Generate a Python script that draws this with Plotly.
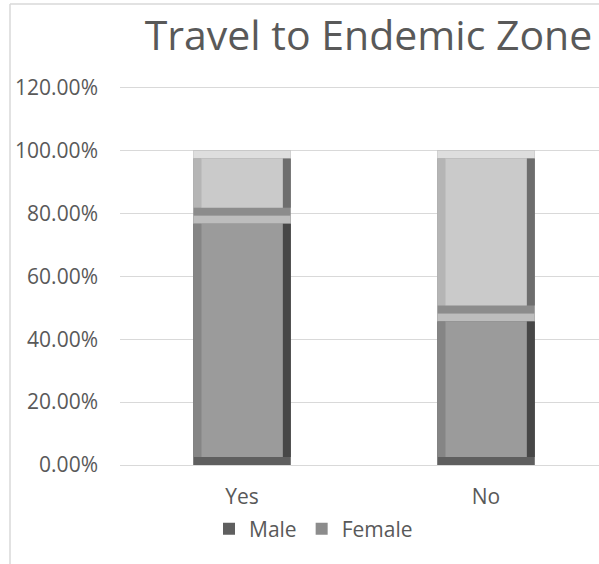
import plotly.graph_objects as go

categories = ["Yes", "No"]
male = [79.3, 48.2]
female = [20.7, 51.8]
y_ticks = [0, 20, 40, 60, 80, 100, 120]
y_tick_labels = ["0.00%", "20.00%", "40.00%", "60.00%", "80.00%", "100.00%", "120.00%"]

W, H = 599, 564
YMAX = 121.5
PX_PER_UNIT = 377.0 / 120.0
ML, MR, MB = 120, 0, 99
ph = round(YMAX * PX_PER_UNIT)
MT = H - MB - ph
pw = W - ML - MR
CAT_PX = 244.0

BAR_W = 0.4
px_y = YMAX / ph          # data units per pixel (y)
px_x = 1.0 / CAT_PX       # category units per pixel (x)
bev_y = 8 * px_y
bev_x = 8 * px_x

fig = go.Figure()


def bevel_bar(name, bases, heights, c_frame, c_top, c_left, c_right, c_face):
    inner_base = [b + bev_y for b in bases]
    inner_h = [h - 2 * bev_y for h in heights]
    top_base = [b + h - bev_y for b, h in zip(bases, heights)]
    # frame (shows as the bottom bevel)
    fig.add_trace(go.Bar(name=name, x=categories, y=heights, base=bases, width=BAR_W,
                         marker=dict(color=c_frame, line=dict(width=0)),
                         legendgroup=name, showlegend=True, hoverinfo="skip"))
    # top highlight
    fig.add_trace(go.Bar(x=categories, y=[bev_y] * len(categories), base=top_base, width=BAR_W,
                         marker=dict(color=c_top, line=dict(width=0)),
                         legendgroup=name, showlegend=False, hoverinfo="skip"))
    # left edge
    fig.add_trace(go.Bar(x=categories, y=inner_h, base=inner_base, width=bev_x,
                         offset=-BAR_W / 2, marker=dict(color=c_left, line=dict(width=0)),
                         legendgroup=name, showlegend=False, hoverinfo="skip"))
    # right edge
    fig.add_trace(go.Bar(x=categories, y=inner_h, base=inner_base, width=bev_x,
                         offset=BAR_W / 2 - bev_x, marker=dict(color=c_right, line=dict(width=0)),
                         legendgroup=name, showlegend=False, hoverinfo="skip"))
    # face
    fig.add_trace(go.Bar(x=categories, y=inner_h, base=inner_base, width=BAR_W - 2 * bev_x,
                         offset=-BAR_W / 2 + bev_x, marker=dict(color=c_face, line=dict(width=0)),
                         legendgroup=name, showlegend=False, hoverinfo="skip"))


male_base = [0 for _ in male]
female_base = list(male)
bevel_bar("Male", male_base, male, "#5f5f5f", "#bdbdbd", "#858585", "#474747", "#9b9b9b")
bevel_bar("Female", female_base, female, "#8c8c8c", "#dedede", "#b5b5b5", "#6e6e6e", "#cacaca")

font_family = "Open Sans"
fig.update_layout(
    width=W, height=H,
    margin=dict(l=ML, r=MR, t=MT, b=MB, autoexpand=False),
    barmode="overlay",
    paper_bgcolor="white", plot_bgcolor="white",
    font=dict(family=font_family, color="#595959", size=21),
    title=dict(text="Travel to Endemic Zone", x=368.5 / W, xanchor="center",
               y=1 - 36 / H, yanchor="middle", xref="container", yref="container",
               font=dict(size=41, color="#595959", family=font_family)),
    showlegend=True,
    legend=dict(orientation="h", x=(209 - ML) / pw, xanchor="left",
                y=-(529 - (MT + ph)) / ph, yanchor="middle",
                font=dict(size=21, color="#595959"), itemwidth=30,
                traceorder="normal", bgcolor="rgba(0,0,0,0)"),
    xaxis=dict(range=[-0.5, -0.5 + pw / CAT_PX], showgrid=False, showline=False,
               zeroline=False, ticks="", ticklabelstandoff=17,
               tickfont=dict(size=21, color="#595959")),
    yaxis=dict(range=[0, YMAX], tickvals=y_ticks, ticktext=y_tick_labels,
               showgrid=True, gridcolor="#d9d9d9", gridwidth=1,
               zeroline=True, zerolinecolor="#d9d9d9", zerolinewidth=1,
               showline=False, ticks="", ticklabelstandoff=21,
               tickfont=dict(size=21, color="#595959")),
    shapes=[
        dict(type="line", xref="paper", yref="paper",
             x0=(10 - ML) / pw, x1=(10 - ML) / pw,
             y0=(MT + ph - 4) / ph, y1=-(H - MT - ph) / ph,
             line=dict(color="#d9d9d9", width=1.5), layer="below"),
        dict(type="line", xref="paper", yref="paper",
             x0=(10 - ML) / pw, x1=1.02,
             y0=(MT + ph - 4) / ph, y1=(MT + ph - 4) / ph,
             line=dict(color="#d9d9d9", width=1.5), layer="below"),
    ],
)

fig.write_html("out.html")
